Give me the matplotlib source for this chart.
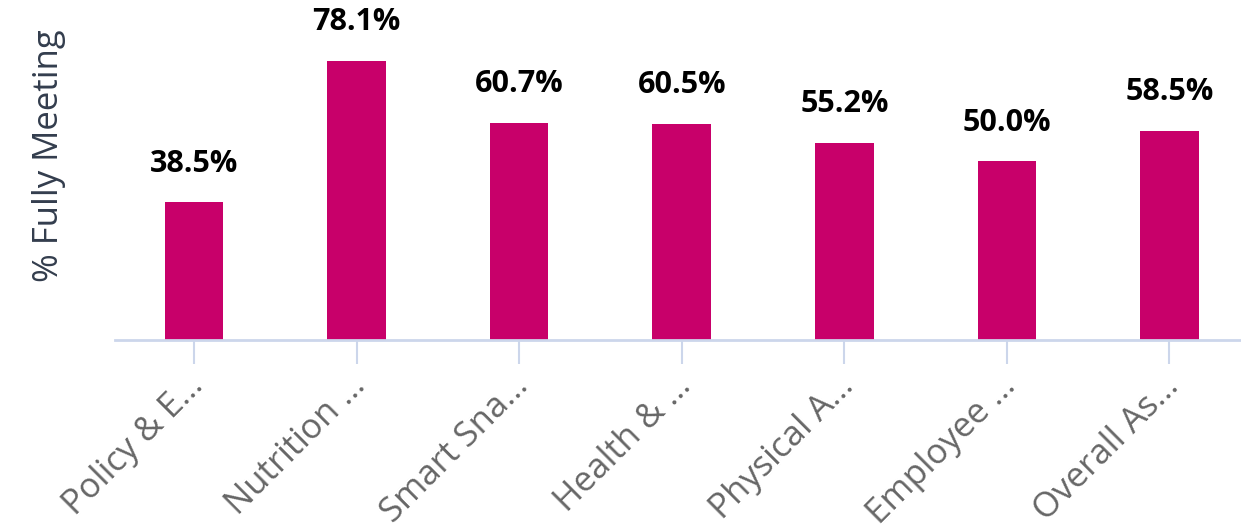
import numpy as np
import matplotlib.pyplot as plt
import matplotlib.transforms as mtransforms

categories = ["Policy & E\u2026", "Nutrition \u2026", "Smart Sna\u2026", "Health & \u2026",
              "Physical A\u2026", "Employee \u2026", "Overall As\u2026"]
values = [38.5, 78.1, 60.7, 60.5, 55.2, 50.0, 58.5]

plt.rcParams['font.family'] = ['Open Sans', 'DejaVu Sans']

fig = plt.figure(figsize=(12.41, 5.26), dpi=100)
ax = fig.add_axes([115/1241, 1 - 340/526, 1 - 115/1241, 340/526])

x = np.arange(len(categories))
bars = ax.bar(x, values, width=0.36, color='#c8006a', zorder=2)

for xi, v in zip(x, values):
    ax.annotate("%.1f%%" % v, (xi, v), xytext=(0, 17), textcoords='offset points',
                ha='center', va='bottom', fontsize=22, fontweight='bold', color='black')

ax.set_xlim(-0.486, 6.44)
ax.set_ylim(0, 95.1)

for s in ['top', 'right', 'left']:
    ax.spines[s].set_visible(False)
ax.spines['bottom'].set_color('#ccd6eb')
ax.spines['bottom'].set_linewidth(2)

ax.set_yticks([])
ax.set_xticks(x)
ax.set_xticklabels(categories, rotation=45, ha='right', va='top', rotation_mode='anchor',
                   fontsize=25, color='#666666')
ax.tick_params(axis='x', length=17, width=1.5, color='#ccd6eb', pad=4)
# nudge the rotated labels a bit to the left
shift = mtransforms.ScaledTranslation(-8/100, 0, fig.dpi_scale_trans)
for lab in ax.get_xticklabels():
    lab.set_transform(lab.get_transform() + shift)

ax.set_ylabel("% Fully Meeting", fontsize=25, color='#333d4d')
ax.yaxis.set_label_coords(-49/1126, 0.541)

fig.savefig('out.png', dpi=100)
